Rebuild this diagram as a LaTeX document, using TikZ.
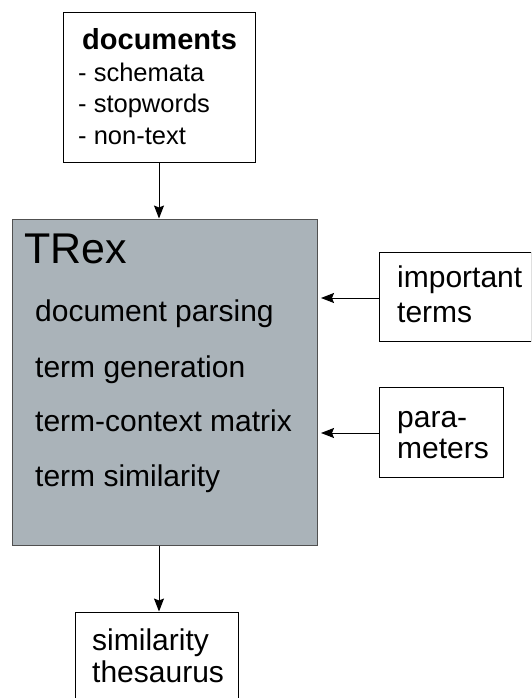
\documentclass[tikz,border=0pt]{standalone}
\usepackage{fontspec}
\setmainfont{Liberation Sans}
\usetikzlibrary{arrows.meta}
\definecolor{trexfill}{RGB}{170,179,185}
\definecolor{trexline}{RGB}{80,80,80}
\tikzset{
  box/.style={draw=black, line width=1pt, fill=white, inner sep=0pt},
  itemtext/.style={anchor=base west, inner sep=0pt, font=\fontsize{30}{34}\selectfont},
  listtext/.style={anchor=base west, inner sep=0pt, font=\fontsize{25.5}{31}\selectfont},
  flow/.style={line width=1pt, -{Stealth[length=13pt,width=10pt,inset=2pt]}}
}
\begin{document}
\begin{tikzpicture}[x=1pt,y=-1pt]
\useasboundingbox (0,0) rectangle (531,698);
\clip (0,0) rectangle (531,698);
\fill[white] (0,0) rectangle (531,698);

% input documents
\node[box, minimum width=192pt, minimum height=149pt] (docs) at (159,87.5) {};
\node[anchor=base west, inner sep=0pt, font=\fontsize{29}{31}\selectfont\bfseries] (docsT) at (82,50) {documents};
\node[listtext] (d1) at (78,82) {- schemata};
\node[listtext] (d2) at (78,113) {- stopwords};
\node[listtext] (d3) at (78,144) {- non-text};

% main system box
\node[draw=trexline, fill=trexfill, line width=1pt, minimum width=305pt, minimum height=326pt, inner sep=0pt] (trex) at (164.5,382) {};
\node[anchor=base west, inner sep=0pt, font=\fontsize{43}{48}\selectfont] (trexT) at (24,263) {TRex};
\node[itemtext] (s1) at (35,321) {document parsing};
\node[itemtext] (s2) at (35,377) {term generation};
\node[itemtext] (s3) at (35,431) {term-context matrix};
\node[itemtext] (s4) at (35,486) {term similarity};

% side inputs
\node[box, minimum width=152pt, minimum height=89pt] (imp) at (455,296.5) {};
\node[itemtext] (i1) at (397,287) {important};
\node[itemtext] (i2) at (397,322) {terms};

\node[box, minimum width=124pt, minimum height=90pt] (par) at (441,432) {};
\node[itemtext] (p1) at (397,427) {para-};
\node[itemtext] (p2) at (397,458) {meters};

% output
\node[box, minimum width=163pt, minimum height=100pt] (out) at (156.5,662) {};
\node[itemtext] (o1) at (92,650) {similarity};
\node[itemtext] (o2) at (92,682) {thesaurus};

% connectors
\coordinate (impTip) at (321,298);
\coordinate (parTip) at (321,433);
\draw[flow] (docs.south -| 159,0) -- (trex.north -| 159,0);
\draw[flow] (imp.west |- impTip) -- (impTip);
\draw[flow] (par.west |- parTip) -- (parTip);
\draw[flow] (trex.south -| 159,0) -- (out.north -| 159,0);
\end{tikzpicture}
\end{document}
